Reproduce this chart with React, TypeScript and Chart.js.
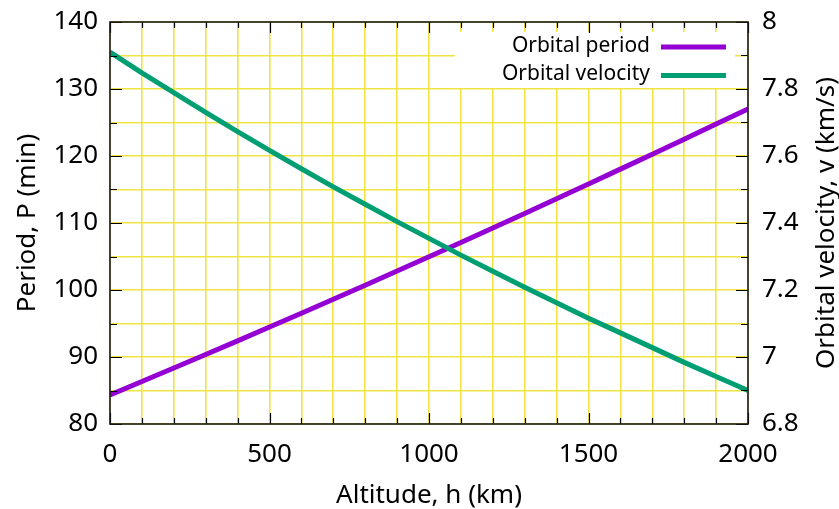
import React, { useEffect, useRef } from "react";
import { Chart, registerables } from "chart.js";

Chart.register(...registerables);

// Altitude (km)
const altitudes = [0, 100, 200, 300, 400, 500, 600, 700, 800, 900, 1000, 1100, 1200, 1300, 1400, 1500, 1600, 1700, 1800, 1900, 2000];
// Orbital period (min)
const periodMin = [84.35, 86.34, 88.35, 90.37, 92.41, 94.47, 96.53, 98.62, 100.72, 102.83, 104.96, 107.10, 109.26, 111.43, 113.62, 115.82, 118.04, 120.26, 122.50, 124.76, 127.03];
// Orbital velocity (km/s)
const velocityKms = [7.910, 7.848, 7.789, 7.730, 7.673, 7.617, 7.562, 7.508, 7.456, 7.404, 7.354, 7.304, 7.256, 7.208, 7.162, 7.116, 7.072, 7.028, 6.984, 6.942, 6.900];

const seriesLabels = ["Orbital period", "Orbital velocity"];
const seriesColors = ["#9400D3", "#009E73"];
const xTitle = "Altitude, h (km)";
const yTitle = "Period, P (min)";
const y1Title = "Orbital velocity, v (km/s)";

const FONT = "'Noto Sans', 'DejaVu Sans', sans-serif";
const GRID = "#F0E442";

const overlayPlugin = {
  id: "gnuplotOverlay",
  afterDatasetsDraw(chart: any) {
    const ctx = chart.ctx as CanvasRenderingContext2D;
    const area = chart.chartArea;
    const xs = chart.scales.x;
    const ys = chart.scales.y;
    const y1s = chart.scales.y1;
    ctx.save();

    // legend box
    ctx.fillStyle = "#ffffff";
    ctx.fillRect(455, area.top + 10, 280, 56);
    ctx.font = `21px ${FONT}`;
    ctx.textAlign = "right";
    ctx.textBaseline = "middle";
    chart.data.datasets.forEach((ds: any, i: number) => {
      const cy = area.top + 25 + i * 28.5;
      ctx.fillStyle = "#000";
      ctx.fillText(ds.label, 650, cy - 1);
      ctx.strokeStyle = ds.borderColor;
      ctx.lineWidth = 5;
      ctx.beginPath();
      ctx.moveTo(661, cy);
      ctx.lineTo(726, cy);
      ctx.stroke();
    });

    // inward ticks
    ctx.strokeStyle = "#000";
    ctx.lineWidth = 1.2;
    ctx.beginPath();
    xs.ticks.forEach((t: any) => {
      const px = Math.round(xs.getPixelForValue(t.value)) + 0.5;
      const len = t.value % 500 === 0 ? 11 : 6;
      ctx.moveTo(px, area.bottom);
      ctx.lineTo(px, area.bottom - len);
      ctx.moveTo(px, area.top);
      ctx.lineTo(px, area.top + len);
    });
    ys.ticks.forEach((t: any) => {
      const py = Math.round(ys.getPixelForValue(t.value)) + 0.5;
      const len = t.value % 10 === 0 ? 12 : 7;
      ctx.moveTo(area.left, py);
      ctx.lineTo(area.left + len, py);
    });
    y1s.ticks.forEach((t: any) => {
      const py = Math.round(y1s.getPixelForValue(t.value)) + 0.5;
      const len = Math.round(t.value * 10) % 2 === 0 ? 12 : 7;
      ctx.moveTo(area.right, py);
      ctx.lineTo(area.right - len, py);
    });
    ctx.stroke();

    // frame
    ctx.strokeStyle = "#1a1a1a";
    ctx.lineWidth = 1.6;
    ctx.strokeRect(area.left, area.top, area.right - area.left, area.bottom - area.top);

    // titles
    ctx.fillStyle = "#000";
    ctx.font = `26px ${FONT}`;
    ctx.textAlign = "center";
    ctx.textBaseline = "alphabetic";
    const cx = (area.left + area.right) / 2;
    const cyMid = (area.top + area.bottom) / 2;
    ctx.fillText(xTitle, cx, 503);

    ctx.save();
    ctx.translate(35, cyMid);
    ctx.rotate(-Math.PI / 2);
    ctx.fillText(yTitle, 0, 0);
    ctx.restore();

    ctx.save();
    ctx.translate(834, cyMid);
    ctx.rotate(-Math.PI / 2);
    ctx.fillText(y1Title, 0, 0);
    ctx.restore();

    ctx.restore();
  },
};

export default function App() {
  const ref = useRef<HTMLCanvasElement | null>(null);

  useEffect(() => {
    if (!ref.current) return;
    const chart = new Chart(ref.current, {
      type: "line",
      data: {
        datasets: [
          {
            label: seriesLabels[0],
            data: altitudes.map((h, i) => ({ x: h, y: periodMin[i] })),
            borderColor: seriesColors[0],
            backgroundColor: seriesColors[0],
            borderWidth: 5,
            pointRadius: 0,
            tension: 0,
            yAxisID: "y",
            order: 1,
          },
          {
            label: seriesLabels[1],
            data: altitudes.map((h, i) => ({ x: h, y: velocityKms[i] })),
            borderColor: seriesColors[1],
            backgroundColor: seriesColors[1],
            borderWidth: 5,
            pointRadius: 0,
            tension: 0,
            yAxisID: "y1",
            order: 0,
          },
        ],
      },
      options: {
        responsive: false,
        animation: false,
        layout: { padding: { top: 22, left: 0, right: 0, bottom: 0 } },
        plugins: { legend: { display: false }, tooltip: { enabled: false } },
        scales: {
          x: {
            type: "linear",
            min: 0,
            max: 2000,
            afterFit: (s: any) => { s.height = 85; s.paddingLeft = 0; s.paddingRight = 0; },
            grid: { color: GRID, lineWidth: 1.6, drawTicks: false },
            border: { display: false },
            ticks: {
              stepSize: 100,
              autoSkip: false,
              maxRotation: 0,
              padding: 15,
              color: "#000",
              font: { family: FONT, size: 26 },
              callback: (v: any) => (Number(v) % 500 === 0 ? String(v) : ""),
            },
          },
          y: {
            type: "linear",
            position: "left",
            min: 80,
            max: 140,
            afterFit: (s: any) => { s.width = 110; s.paddingTop = 0; s.paddingBottom = 0; },
            grid: { color: GRID, lineWidth: 1.6, drawTicks: false },
            border: { display: false },
            ticks: {
              stepSize: 5,
              autoSkip: false,
              padding: 12,
              color: "#000",
              font: { family: FONT, size: 26 },
              callback: (v: any) => (Number(v) % 10 === 0 ? String(v) : ""),
            },
          },
          y1: {
            type: "linear",
            position: "right",
            min: 6.8,
            max: 8,
            afterFit: (s: any) => { s.width = 91; s.paddingTop = 0; s.paddingBottom = 0; },
            grid: { display: false, drawTicks: false },
            border: { display: false },
            ticks: {
              stepSize: 0.1,
              autoSkip: false,
              padding: 14,
              color: "#000",
              font: { family: FONT, size: 26 },
              callback: (v: any) => {
                const t = Math.round(Number(v) * 10);
                return t % 2 === 0 ? String(t / 10) : "";
              },
            },
          },
        },
      },
      plugins: [overlayPlugin],
    });
    return () => chart.destroy();
  }, []);

  return (
    <div style={{ position: "fixed", left: 0, top: 0, width: 839, height: 509, background: "#fff" }}>
      <canvas ref={ref} width={839} height={509} style={{ width: 839, height: 509 }} />
    </div>
  );
}
